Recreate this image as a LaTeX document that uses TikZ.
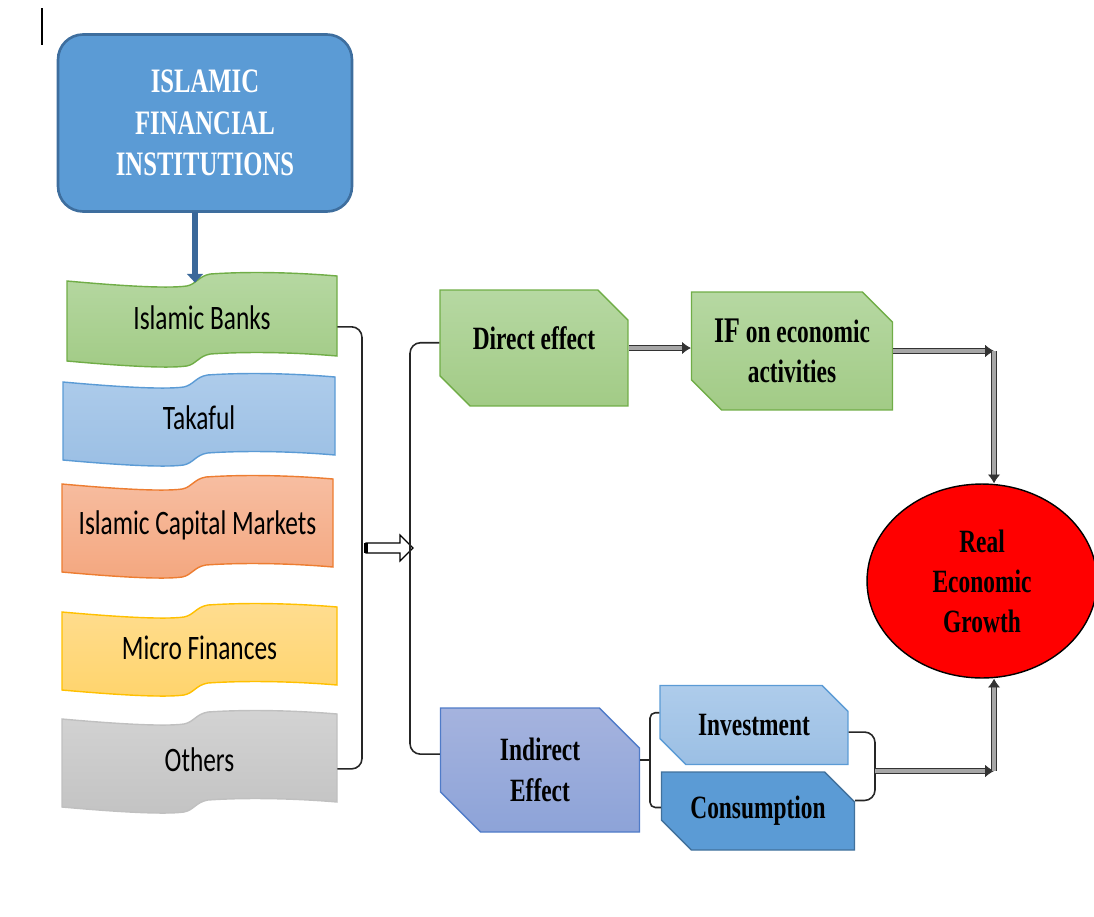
\documentclass[tikz,border=0pt]{standalone}
\usepackage{fontspec}
\usetikzlibrary{positioning, arrows.meta, shapes.misc, shapes.geometric}
\newfontfamily\boxfont[FakeStretch=0.72]{Liberation Serif}
\newfontfamily\wavefont[FakeStretch=0.74]{Carlito}

\definecolor{hdrblue}{HTML}{5B9BD5}
\definecolor{hdrline}{HTML}{3E6E9E}
\definecolor{arrblue}{HTML}{3A689A}
\definecolor{grtop}{HTML}{B6D8A2}
\definecolor{grbot}{HTML}{A2CB86}
\definecolor{grline}{HTML}{70AD47}
\definecolor{bltop}{HTML}{AECCEB}
\definecolor{blbot}{HTML}{9BBFE4}
\definecolor{blline}{HTML}{5B9BD5}
\definecolor{ortop}{HTML}{F7BEA2}
\definecolor{orbot}{HTML}{F4A77F}
\definecolor{orline}{HTML}{ED7D31}
\definecolor{yetop}{HTML}{FFDD90}
\definecolor{yebot}{HTML}{FFD46C}
\definecolor{yeline}{HTML}{FFC000}
\definecolor{gytop}{HTML}{D3D3D3}
\definecolor{gybot}{HTML}{C3C3C3}
\definecolor{gyline}{HTML}{C0C0C0}
\definecolor{intop}{HTML}{A5B3DE}
\definecolor{inbot}{HTML}{8DA3D8}
\definecolor{inline}{HTML}{4F7BC8}
\definecolor{csline}{HTML}{41719C}

\tikzset{
  wavestyle/.style={line width=0.8pt},
  wavetext/.style={inner sep=0pt, minimum height=1.4cm,
    font=\wavefont\fontsize{19.5}{22}\selectfont},
  snipbox/.style={chamfered rectangle,
    chamfered rectangle corners={north east, south west},
    chamfered rectangle xsep=0.3cm, chamfered rectangle ysep=0.3cm,
    line width=0.8pt, align=center, inner sep=0pt,
    font=\boxfont\bfseries\fontsize{18.5}{23}\selectfont},
  thinline/.style={draw=black!85, line width=0.9pt, rounded corners=6pt},
  grayarrow/.style={draw=black!80, line width=0.45pt, double=black!35,
    double distance=2.4pt, -{Latex[length=5pt, width=7pt]}}
}

% wave shaped label: name, left, top, width, height, colours, text
\newcommand{\wavebox}[7]{%
  \begin{scope}[shift={(#2,#3)}, xscale=#4/275]
    \path[wavestyle, #6] (0,7) .. controls (45,11) and (100,15) .. (122,12)
      .. controls (132,10) and (134,2) .. (146,0)
      .. controls (190,-3) and (240,-1) .. (275,2) -- (275,#5+2)
      .. controls (240,#5-1) and (190,#5-3) .. (146,#5)
      .. controls (134,#5+2) and (132,#5+10) .. (122,#5+12)
      .. controls (100,#5+15) and (45,#5+11) .. (0,#5+7) -- cycle;
  \end{scope}
  \node[wavetext, minimum width=#4*0.02cm] (#1) at (#2+#4/2, #3+#5/2+4) {#7};
}

\begin{document}
\begin{tikzpicture}[x=0.02cm, y=-0.02cm]
\useasboundingbox (0,0) rectangle (1094,916);

\draw[line width=1pt] (42,8) -- (42,45);

% institutions
\node[draw=hdrline, line width=1.5pt, fill=hdrblue, rounded corners=0.5cm,
  minimum width=5.88cm, minimum height=3.54cm, text=white, align=center,
  font=\boxfont\bfseries\fontsize{19.5}{23.5}\selectfont] (ifi) at (205,123)
  {ISLAMIC\\FINANCIAL\\INSTITUTIONS};

\wavebox{banks}{67}{274}{270}{80}{draw=grline, top color=grtop, bottom color=grbot}{Islamic Banks}
\wavebox{takaful}{63}{375}{272}{78}{draw=blline, top color=bltop, bottom color=blbot}{Takaful}
\wavebox{icm}{62}{477}{271}{88}{draw=orline, top color=ortop, bottom color=orbot}{Islamic Capital Markets}
\wavebox{micro}{62}{605}{275}{78}{draw=yeline, top color=yetop, bottom color=yebot}{Micro Finances}
\wavebox{others}{62}{712}{275}{88}{draw=gyline, top color=gytop, bottom color=gybot}{Others}

\coordinate (drop) at (195,212);
\draw[line width=3pt, draw=arrblue, -{Triangle[length=5pt, width=9pt]}] (drop) -- (drop |- banks.north);

% effects
\node[snipbox, draw=grline, top color=grtop, bottom color=grbot,
  minimum width=3.76cm, minimum height=2.32cm] (direct) at (534,348)
  {\raisebox{11pt}{Direct effect}};
\node[snipbox, draw=grline, top color=grtop, bottom color=grbot,
  minimum width=4.02cm, minimum height=2.36cm] (ifbox) at (792,351)
  {{\fontsize{20.5}{23}\selectfont IF} on economic\\activities};
\node[snipbox, draw=inline, top color=intop, bottom color=inbot,
  chamfered rectangle xsep=0.4cm, chamfered rectangle ysep=0.4cm,
  minimum width=3.98cm, minimum height=2.48cm] (indirect) at (540,770)
  {Indirect\\Effect};
\node[snipbox, draw=blline, top color=bltop, bottom color=blbot,
  minimum width=3.76cm, minimum height=1.58cm] (invest) at (754,725)
  {Investment};
\node[snipbox, draw=csline, fill=hdrblue,
  minimum width=3.86cm, minimum height=1.56cm] (consum) at (758,811)
  {Consumption};
\node[ellipse, draw=black, line width=0.8pt, fill=red, align=center,
  minimum width=4.6cm, minimum height=3.88cm,
  font=\boxfont\bfseries\fontsize{18.5}{22.7}\selectfont] (reg) at (982,581)
  {Real\\Economic\\Growth};

% brackets
\coordinate (lb) at (362,769);
\draw[thinline] ([yshift=-5pt]banks.east) -| (lb) -- ([yshift=-5pt]others.east);
\coordinate (ha) at (366,548);
\draw[fill=white, line width=0.7pt] (ha) ++(0,-5) -- ++(34,0) -- ++(0,-8)
  -- ++(13,13) -- ++(-13,13) -- ++(0,-8) -- ++(-34,0) -- cycle;
\draw[line width=2pt] (ha) ++(0,-5) -- ++(0,10);
\coordinate (rb) at (410,548);
\draw[thinline] ([yshift=3pt]direct.west) -| (rb) |- ([yshift=9pt]indirect.west);

\coordinate (ib) at (650,760);
\draw[thinline, rounded corners=3pt] ([yshift=7pt]invest.west) -| (ib) |- ([yshift=2pt]consum.west);
\draw[thinline] (ib) -- (indirect.east |- ib);
\coordinate (jn) at (875,771);
\draw[thinline] ([yshift=-4pt]invest.east) -| (jn) |- ([yshift=6pt]consum.east);

% arrows to growth
\coordinate (rx) at (994,0);
\draw[grayarrow] (direct.east) -- (direct.east -| ifbox.west);
\draw[grayarrow] (ifbox.east) -- (ifbox.east -| rx);
\draw[grayarrow] (ifbox.east -| rx) -- (rx |- reg.north);
\draw[grayarrow] (jn) -- (jn -| rx);
\draw[grayarrow] (jn -| rx) -- (rx |- reg.south);

\end{tikzpicture}
\end{document}
